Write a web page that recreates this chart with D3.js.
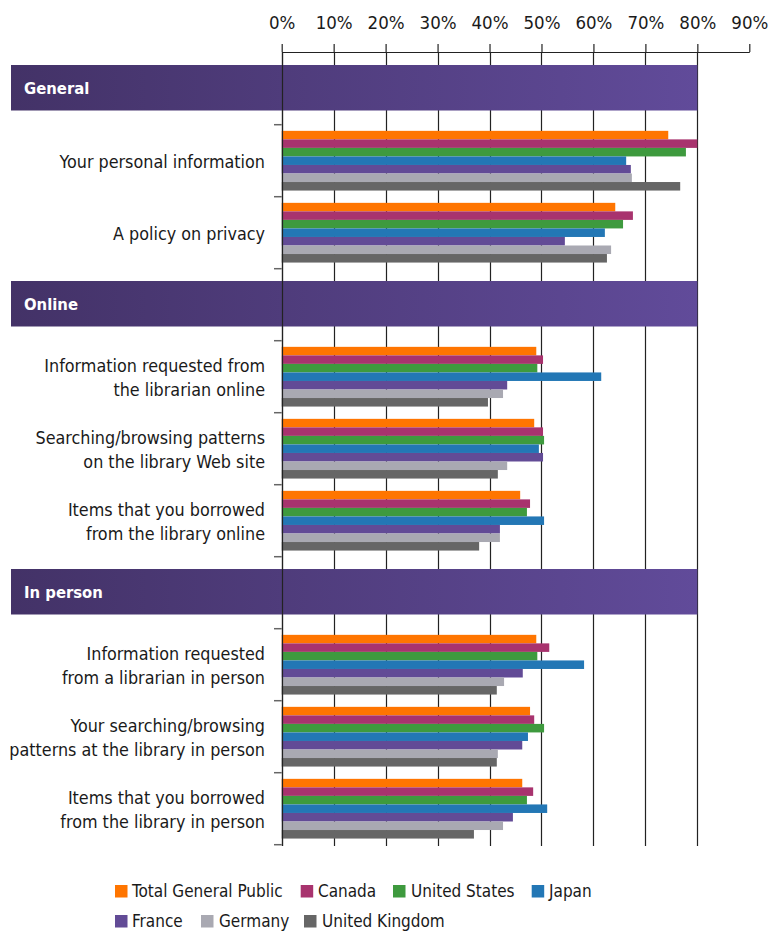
<!DOCTYPE html>
<html>
<head>
<meta charset="utf-8">
<script src="https://cdn.jsdelivr.net/npm/d3@7"></script>
<style>
  html, body { margin: 0; padding: 0; background: #fff; }
  svg { display: block; }
  text { font-family: "DejaVu Sans Condensed", "Liberation Sans Narrow", Roboto, sans-serif; }
</style>
</head>
<body>
<svg id="chart" width="769" height="932"></svg>
<script>
// ---- data ----
const seriesNames = ["Total General Public", "Canada", "United States", "Japan", "France", "Germany", "United Kingdom"];
const seriesColors = ["#ff7500", "#a8336e", "#3e9a3e", "#2377b5", "#624b96", "#a9a9b2", "#666666"];
const groups = ["General", "Online", "In person"];
const categories = [
  ["Your personal information"],
  ["A policy on privacy"],
  ["Information requested from", "the librarian online"],
  ["Searching/browsing patterns", "on the library Web site"],
  ["Items that you borrowed", "from the library online"],
  ["Information requested", "from a librarian in person"],
  ["Your searching/browsing", "patterns at the library in person"],
  ["Items that you borrowed", "from the library in person"]
];
const categoryGroup = [0, 0, 1, 1, 1, 2, 2, 2];
const totalGeneralPublic = [74.4, 64.2, 49.0, 48.6, 45.9, 49.0, 47.8, 46.3];
const canada            = [80.0, 67.6, 50.3, 50.3, 47.8, 51.5, 48.6, 48.4];
const unitedStates      = [77.8, 65.7, 49.2, 50.5, 47.2, 49.2, 50.5, 47.2];
const japan             = [66.3, 62.2, 61.5, 49.5, 50.5, 58.2, 47.4, 51.1];
const france            = [67.2, 54.5, 43.4, 50.3, 42.0, 46.4, 46.3, 44.5];
const germany           = [67.4, 63.4, 42.6, 43.4, 42.0, 42.8, 41.6, 42.6];
const unitedKingdom     = [76.7, 62.6, 39.7, 41.6, 38.0, 41.4, 41.4, 37.0];
const seriesValues = [totalGeneralPublic, canada, unitedStates, japan, france, germany, unitedKingdom];
const xTicks = [0, 10, 20, 30, 40, 50, 60, 70, 80, 90];

// ---- layout ----
const svg = d3.select("#chart");
const x = d3.scaleLinear().domain([0, 90]).range([281.7, 749.3]);

const slots = [];
groups.forEach((g, gi) => {
  slots.push({ type: "header", key: "h" + gi, label: g });
  categories.forEach((c, ci) => {
    if (categoryGroup[ci] === gi) slots.push({ type: "cat", key: "c" + ci, lines: c, idx: ci });
  });
});
const y = d3.scaleBand().domain(slots.map(s => s.key)).range([52.7, 844.7]).padding(0);
const yInner = d3.scaleBand().domain(seriesNames).range([0, y.bandwidth()]).paddingInner(0).paddingOuter(0.72);

const defs = svg.append("defs");
const grad = defs.append("linearGradient").attr("id", "hdr").attr("x1", "0%").attr("x2", "100%");
grad.append("stop").attr("offset", "0%").attr("stop-color", "#433267");
grad.append("stop").attr("offset", "100%").attr("stop-color", "#614b9a");

// gridlines
svg.append("g").selectAll("line").data(xTicks.filter(t => t <= 80)).join("line")
  .attr("x1", d => Math.round(x(d)) + 0.5).attr("x2", d => Math.round(x(d)) + 0.5)
  .attr("y1", 52).attr("y2", 846)
  .attr("stroke", "#222").attr("stroke-width", 1.2);

// top axis
const axis = d3.axisTop(x).tickValues(xTicks).tickFormat(d => d + "%").tickSize(8).tickSizeOuter(0);
const ax = svg.append("g").attr("transform", "translate(0,52)").call(axis);
ax.select(".domain").attr("stroke", "#222").attr("stroke-width", 1.2);
ax.selectAll(".tick line").attr("stroke", "#222").attr("stroke-width", 1.2);
ax.selectAll(".tick text").attr("font-size", 18.5).attr("fill", "#1a1a1a").attr("y", -22.7)
  .style("font-family", '"DejaVu Sans Condensed","Liberation Sans Narrow",Roboto,sans-serif');

// y axis ticks at slot boundaries
const bounds = slots.map(s => y(s.key)).slice(1).concat([844.7]);
svg.append("g").selectAll("line").data(bounds).join("line")
  .attr("x1", 274).attr("x2", 281.7)
  .attr("y1", d => d).attr("y2", d => d)
  .attr("stroke", "#666").attr("stroke-width", 1.5);

// headers
const hdr = svg.append("g").selectAll("g").data(slots.filter(s => s.type === "header")).join("g")
  .attr("transform", d => `translate(0,${y(d.key)})`);
hdr.append("rect").attr("x", 11).attr("y", 12.3).attr("width", x(80) - 11).attr("height", 45.5)
  .attr("fill", "url(#hdr)");
hdr.append("text").attr("x", 24).attr("y", 41.3).attr("fill", "#fff")
  .attr("font-size", 16.5).attr("font-weight", "bold").text(d => d.label);

// category rows
const cats = svg.append("g").selectAll("g").data(slots.filter(s => s.type === "cat")).join("g")
  .attr("transform", d => `translate(0,${y(d.key)})`);
cats.each(function(d) {
  const g = d3.select(this);
  const bw = y.bandwidth();
  const n = d.lines.length;
  const t = g.append("text").attr("text-anchor", "end").attr("x", 265).attr("font-size", 17.8).attr("fill", "#1a1a1a");
  d.lines.forEach((ln, i) => {
    t.append("tspan").attr("x", 265).attr("y", bw / 2 + (i - (n - 1) / 2) * 24 + 7.5).text(ln);
  });
  g.selectAll("rect").data(seriesNames.map((s, si) => ({ s, v: seriesValues[si][d.idx], c: seriesColors[si] })))
    .join("rect")
    .attr("x", x(0)).attr("y", e => yInner(e.s))
    .attr("width", e => x(e.v) - x(0)).attr("height", yInner.bandwidth())
    .attr("fill", e => e.c);
});

// y axis line
svg.append("line").attr("x1", Math.round(x(0)) + 0.5).attr("x2", Math.round(x(0)) + 0.5)
  .attr("y1", 52).attr("y2", 846).attr("stroke", "#222").attr("stroke-width", 1.2);

// legend
const legendPos = [
  { sx: 115, tx: 132, y: 897.3 }, { sx: 300.7, tx: 318, y: 897.3 }, { sx: 393, tx: 411, y: 897.3 }, { sx: 531.7, tx: 549, y: 897.3 },
  { sx: 115, tx: 132, y: 927.3 }, { sx: 201, tx: 219, y: 927.3 }, { sx: 304, tx: 322, y: 927.3 }
];
const lg = svg.append("g").selectAll("g").data(seriesNames).join("g");
lg.append("rect").attr("x", (d, i) => legendPos[i].sx).attr("y", (d, i) => legendPos[i].y - 12.3)
  .attr("width", 12.5).attr("height", 12.5).attr("fill", (d, i) => seriesColors[i]);
lg.append("text").attr("x", (d, i) => legendPos[i].tx).attr("y", (d, i) => legendPos[i].y)
  .attr("font-size", 17).attr("fill", "#1a1a1a").text(d => d);
</script>
</body>
</html>
